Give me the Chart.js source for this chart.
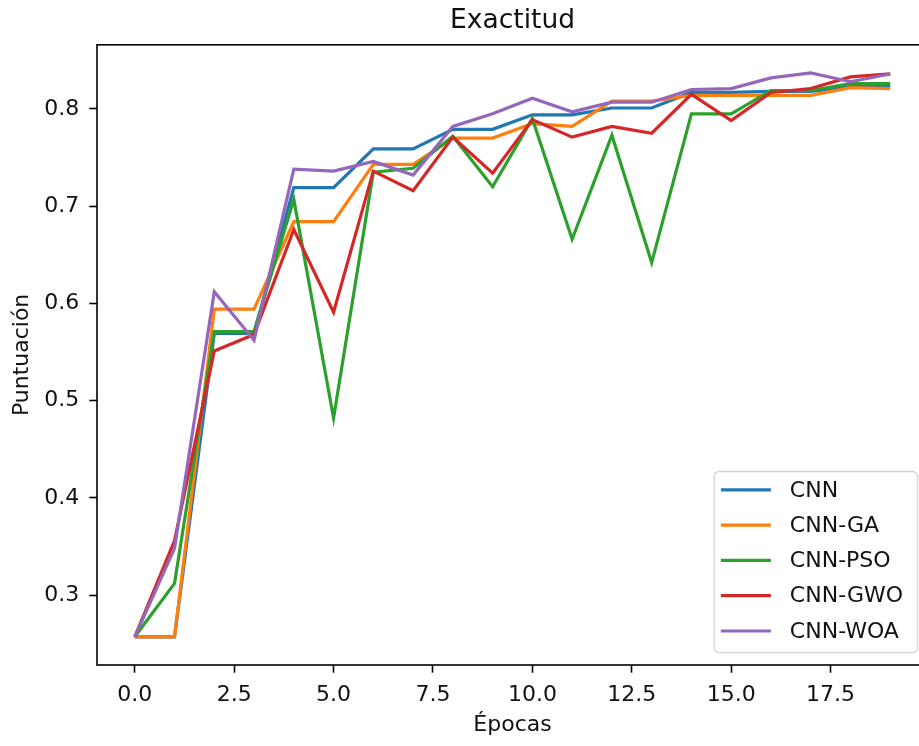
<!DOCTYPE html>
<html lang="es">
<head>
    <meta charset="UTF-8">
    <title>Exactitud</title>
    <script src="https://cdn.jsdelivr.net/npm/chart.js"></script>
    <style>
        html, body {
            margin: 0;
            padding: 0;
            background: #fff;
            overflow: hidden;
        }
        .wrap {
            position: relative;
            width: 930px;
            height: 746px;
        }
    </style>
</head>
<body>
    <div class="wrap">
        <canvas id="accChart"></canvas>
    </div>

    <script>
        // Epochs and accuracy per model
        const epochs = [0, 1, 2, 3, 4, 5, 6, 7, 8, 9, 10, 11, 12, 13, 14, 15, 16, 17, 18, 19];
        const cnn    = [0.257, 0.257, 0.569, 0.569, 0.719, 0.719, 0.759, 0.759, 0.779, 0.779, 0.794, 0.794, 0.801, 0.801, 0.817, 0.817, 0.818, 0.818, 0.823, 0.823];
        const cnnGa  = [0.257, 0.257, 0.594, 0.594, 0.684, 0.684, 0.743, 0.743, 0.770, 0.770, 0.785, 0.782, 0.808, 0.808, 0.814, 0.814, 0.814, 0.814, 0.822, 0.821];
        const cnnPso = [0.257, 0.312, 0.571, 0.571, 0.707, 0.482, 0.735, 0.739, 0.772, 0.720, 0.790, 0.666, 0.773, 0.642, 0.795, 0.795, 0.819, 0.819, 0.826, 0.826];
        const cnnGwo = [0.257, 0.356, 0.551, 0.568, 0.676, 0.591, 0.736, 0.716, 0.771, 0.734, 0.789, 0.771, 0.782, 0.775, 0.815, 0.788, 0.817, 0.821, 0.833, 0.836];
        const cnnWoa = [0.257, 0.348, 0.612, 0.562, 0.738, 0.736, 0.746, 0.732, 0.782, 0.795, 0.811, 0.797, 0.807, 0.807, 0.820, 0.821, 0.832, 0.837, 0.828, 0.836];

        const seriesNames = ['CNN', 'CNN-GA', 'CNN-PSO', 'CNN-GWO', 'CNN-WOA'];
        const seriesValues = [cnn, cnnGa, cnnPso, cnnGwo, cnnWoa];
        const seriesColors = ['#1f77b4', '#ff7f0e', '#2ca02c', '#d62728', '#9467bd'];

        const FONT = "'DejaVu Sans', 'Liberation Sans', sans-serif";
        Chart.defaults.font.family = FONT;
        Chart.defaults.color = '#111';

        const datasets = seriesNames.map((name, i) => ({
            label: name,
            data: epochs.map((e, k) => ({ x: e, y: seriesValues[i][k] })),
            borderColor: seriesColors[i],
            backgroundColor: seriesColors[i],
            borderWidth: 3.2,
            pointRadius: 0,
            tension: 0,
            fill: false,
            // later series on top, like matplotlib
            order: seriesNames.length - 1 - i
        }));

        // top/right spines
        const frame = {
            id: 'frame',
            afterDraw(chart) {
                const { ctx, chartArea: a } = chart;
                ctx.save();
                ctx.strokeStyle = '#000';
                ctx.lineWidth = 1.6;
                ctx.strokeRect(a.left, a.top, a.right - a.left, a.bottom - a.top);
                ctx.restore();
            }
        };

        // legend inside plot, lower right
        const innerLegend = {
            id: 'innerLegend',
            afterDraw(chart) {
                const { ctx, chartArea: a } = chart;
                const ds = chart.data.datasets;
                const size = 22;
                const rowH = 35.3;
                ctx.save();
                ctx.font = size + 'px ' + FONT;
                let maxW = 0;
                ds.forEach(d => { maxW = Math.max(maxW, ctx.measureText(d.label).width); });
                const w = 6.7 + 50 + 19 + maxW + 14.5;
                const h = 18.3 + rowH * (ds.length - 1) + 21.7;
                const right = a.right - 10.5;
                const bottom = a.bottom - 12.3;
                const left = right - w;
                const top = bottom - h;

                ctx.beginPath();
                ctx.roundRect(left, top, w, h, 5);
                ctx.fillStyle = 'rgba(255,255,255,0.8)';
                ctx.fill();
                ctx.strokeStyle = '#d4d4d4';
                ctx.lineWidth = 1.3;
                ctx.stroke();

                ds.forEach((d, i) => {
                    const cy = top + 18.3 + i * rowH;
                    ctx.beginPath();
                    ctx.moveTo(left + 6.7, cy);
                    ctx.lineTo(left + 56.7, cy);
                    ctx.strokeStyle = d.borderColor;
                    ctx.lineWidth = 3.2;
                    ctx.stroke();
                    ctx.fillStyle = '#111';
                    ctx.textBaseline = 'middle';
                    ctx.textAlign = 'left';
                    ctx.fillText(d.label, left + 75.7, cy + 1);
                });
                ctx.restore();
            }
        };

        new Chart(document.getElementById('accChart'), {
            type: 'line',
            data: { datasets },
            plugins: [frame, innerLegend],
            options: {
                responsive: true,
                maintainAspectRatio: false,
                animation: false,
                layout: { padding: { left: 0, right: 2, top: 0, bottom: 0 } },
                plugins: {
                    legend: { display: false },
                    tooltip: { enabled: false },
                    title: {
                        display: true,
                        text: 'Exactitud',
                        fullSize: false,
                        color: '#111',
                        font: { size: 26.5, weight: 'normal' },
                        padding: { top: 5, bottom: 8 }
                    }
                },
                scales: {
                    x: {
                        type: 'linear',
                        min: -0.95,
                        max: 19.95,
                        border: { display: false },
                        grid: {
                            drawOnChartArea: false,
                            drawTicks: true,
                            tickLength: 7.7,
                            tickWidth: 1.6,
                            tickColor: '#000'
                        },
                        ticks: {
                            stepSize: 2.5,
                            includeBounds: false,
                            autoSkip: false,
                            maxRotation: 0,
                            padding: 9,
                            color: '#111',
                            font: { size: 22 },
                            callback: v => Number(v).toFixed(1)
                        },
                        title: {
                            display: true,
                            text: 'Épocas',
                            color: '#111',
                            font: { size: 22 },
                            padding: { top: 0, bottom: 8 }
                        },
                        afterFit: s => { s.height = 81; }
                    },
                    y: {
                        min: 0.228,
                        max: 0.866,
                        border: { display: false },
                        grid: {
                            drawOnChartArea: false,
                            drawTicks: true,
                            tickLength: 7.7,
                            tickWidth: 1.6,
                            tickColor: '#000'
                        },
                        ticks: {
                            stepSize: 0.1,
                            includeBounds: false,
                            padding: 10,
                            color: '#111',
                            font: { size: 22 },
                            callback: v => Number(v).toFixed(1)
                        },
                        title: {
                            display: true,
                            text: 'Puntuación',
                            color: '#111',
                            font: { size: 22 },
                            padding: { top: 9, bottom: 0 }
                        },
                        afterFit: s => { s.width = 97; }
                    }
                }
            }
        });
    </script>
</body>
</html>
